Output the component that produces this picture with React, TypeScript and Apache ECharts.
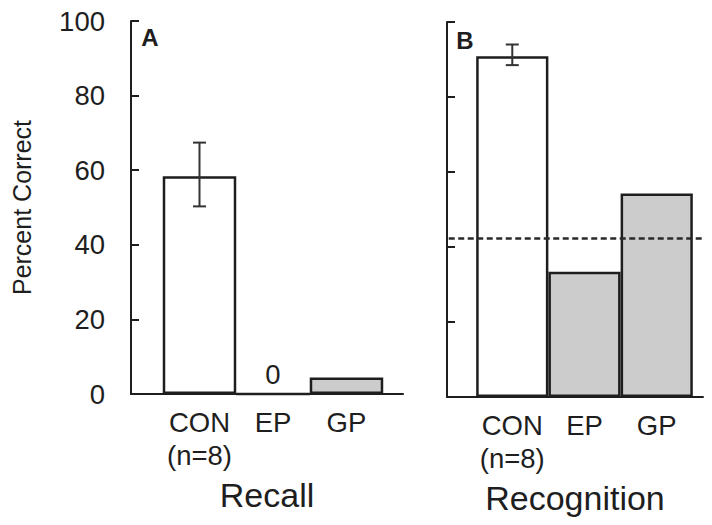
import React, { useEffect, useRef } from 'react';
import * as echarts from 'echarts';

const categories = ['CON\n(n=8)', 'EP', 'GP'];
const yTickValues = [0, 20, 40, 60, 80, 100];
const recallValues = [58.4, 0, 4.4];
const recallErrLow = [50.3];
const recallErrHigh = [67.4];
const recognitionValues = [90.9, 33.4, 54.3];
const recognitionErrLow = [88.5];
const recognitionErrHigh = [94.0];
const chanceLevel = 42.4;
const barFills = ['#ffffff', '#cccccc', '#cccccc'];
const panelTitles = ['Recall', 'Recognition'];
const panelLetters = ['A', 'B'];

const FONT = '"Liberation Sans", Arial, sans-serif';
const INK = '#1e1e1e';

function errorRender(params: any, api: any) {
  const x = api.value(0);
  const lo = api.coord([x, api.value(1)]);
  const hi = api.coord([x, api.value(2)]);
  const w = 6.5;
  const style = { stroke: '#333', lineWidth: 2 };
  return {
    type: 'group',
    children: [
      { type: 'line', shape: { x1: lo[0], y1: lo[1], x2: hi[0], y2: hi[1] }, style },
      { type: 'line', shape: { x1: lo[0] - w, y1: lo[1], x2: lo[0] + w, y2: lo[1] }, style },
      { type: 'line', shape: { x1: hi[0] - w, y1: hi[1], x2: hi[0] + w, y2: hi[1] }, style },
    ],
  };
}

export default function App() {
  const ref = useRef<HTMLDivElement>(null);
  useEffect(() => {
    if (!ref.current) return;
    const chart = echarts.init(ref.current, null, { renderer: 'svg' });

    const xAxisBase = (idx: number, min: number, max: number) => ({
      type: 'value',
      gridIndex: idx,
      min,
      max,
      name: panelTitles[idx],
      nameLocation: 'middle',
      nameGap: 84,
      nameTextStyle: { fontFamily: FONT, fontSize: 34, color: INK },
      axisLine: { show: true, onZero: false, lineStyle: { color: INK, width: 2 } },
      axisTick: { show: false },
      splitLine: { show: false },
      axisLabel: {
        customValues: [0, 1, 2],
        formatter: (v: number) => categories[Math.round(v)],
        fontFamily: FONT,
        fontSize: 27.5,
        lineHeight: 33,
        color: INK,
        margin: 12,
      },
    });

    const yAxisBase = (idx: number, showLabels: boolean) => ({
      type: 'value',
      gridIndex: idx,
      min: 0,
      max: 100,
      interval: 20,
      name: showLabels ? 'Percent Correct' : '',
      nameLocation: 'middle',
      nameGap: 97,
      nameTextStyle: { fontFamily: FONT, fontSize: 25, color: INK },
      axisLine: { show: true, onZero: false, lineStyle: { color: INK, width: 2 } },
      axisTick: { show: true, inside: true, length: 8, lineStyle: { color: INK, width: 2 } },
      splitLine: { show: false },
      axisLabel: {
        show: showLabels,
        fontFamily: FONT,
        fontSize: 27.5,
        color: INK,
        margin: 26,
        formatter: (v: number) => (yTickValues.includes(v) ? String(v) : ''),
      },
    });

    const barData = (vals: number[]) =>
      vals.map((v, i) => ({
        value: [i, v],
        itemStyle: { color: barFills[i], borderColor: INK, borderWidth: 2.5 },
      }));

    chart.setOption({
      animation: false,
      backgroundColor: '#ffffff',
      grid: [
        { left: 131, top: 21, width: 272, height: 373 },
        { left: 447, top: 22, width: 256, height: 375 },
      ],
      xAxis: [xAxisBase(0, -0.932, 2.769), xAxisBase(1, -0.904, 2.641)],
      yAxis: [yAxisBase(0, true), yAxisBase(1, false)],
      graphic: [
        {
          type: 'text',
          x: 150,
          y: 37,
          style: {
            text: panelLetters[0],
            font: `bold 24px ${FONT}`,
            fill: INK,
            align: 'center',
            verticalAlign: 'middle',
          },
        },
        {
          type: 'text',
          x: 465,
          y: 40,
          style: {
            text: panelLetters[1],
            font: `bold 24px ${FONT}`,
            fill: INK,
            align: 'center',
            verticalAlign: 'middle',
          },
        },
      ],
      series: [
        {
          type: 'bar',
          xAxisIndex: 0,
          yAxisIndex: 0,
          barWidth: 73.5,
          data: barData(recallValues).map((d, i) =>
            recallValues[i] === 0
              ? {
                  ...d,
                  label: {
                    show: true,
                    position: 'top',
                    distance: 4,
                    formatter: (p: any) => String(p.value[1]),
                    fontFamily: FONT,
                    fontSize: 27.5,
                    color: INK,
                  },
                }
              : d
          ),
        },
        {
          type: 'custom',
          xAxisIndex: 0,
          yAxisIndex: 0,
          z: 5,
          renderItem: errorRender,
          data: recallErrLow.map((lo, i) => [i, lo, recallErrHigh[i]]),
        },
        {
          type: 'bar',
          xAxisIndex: 1,
          yAxisIndex: 1,
          barWidth: 72.2,
          data: barData(recognitionValues),
          markLine: {
            silent: true,
            symbol: 'none',
            z: 10,
            label: { show: false },
            lineStyle: { type: [6, 3.5], color: '#2a2a2a', width: 2.5 },
            data: [[{ coord: [-0.88, chanceLevel] }, { coord: [2.64, chanceLevel] }]],
          },
        },
        {
          type: 'custom',
          xAxisIndex: 1,
          yAxisIndex: 1,
          z: 5,
          renderItem: errorRender,
          data: recognitionErrLow.map((lo, i) => [i, lo, recognitionErrHigh[i]]),
        },
      ],
    });
    return () => chart.dispose();
  }, []);

  return (
    <div
      ref={ref}
      style={{ position: 'fixed', left: 0, top: 0, width: 712, height: 525, background: '#fff' }}
    />
  );
}
